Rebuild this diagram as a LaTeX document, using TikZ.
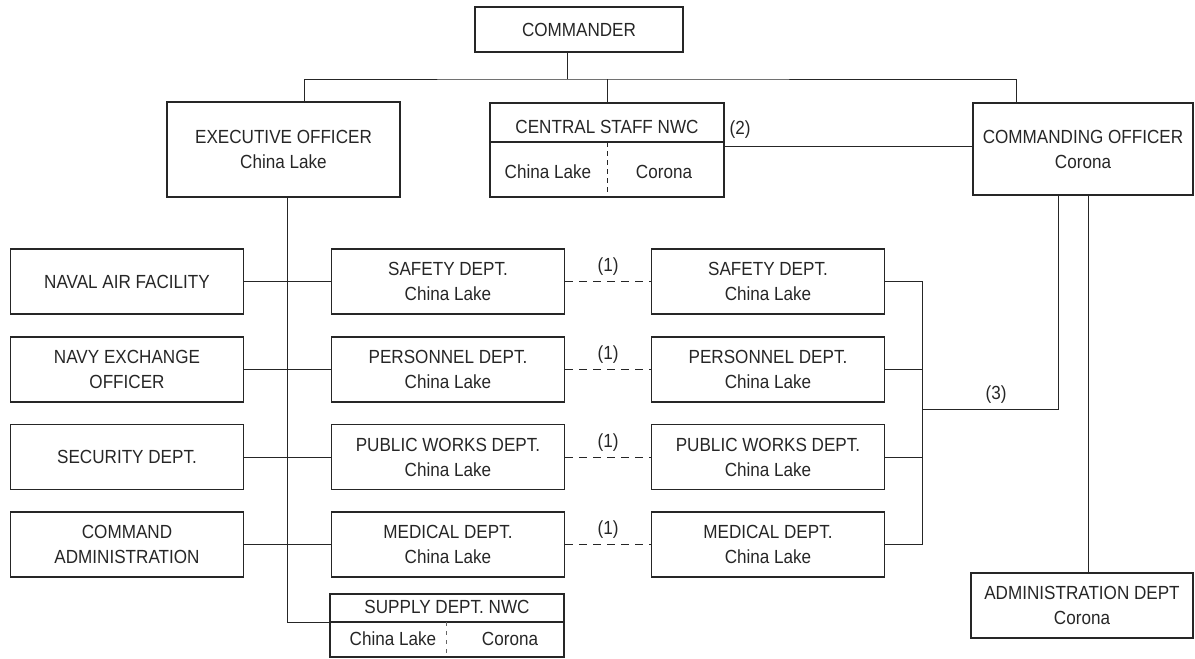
\documentclass[tikz,border=0pt]{standalone}
\usepackage{fontspec}
\setmainfont{Liberation Sans}[FakeStretch=0.9]
\usetikzlibrary{calc}

\begin{document}
\begin{tikzpicture}[x=1pt, y=-1pt,
    every node/.style={font=\fontsize{19}{25}\selectfont, text=black!85},
    unit/.style={draw=black!85, line width=1.3pt, align=center, inner sep=0pt},
    rowbox/.style={unit, minimum width=233pt, minimum height=65pt},
    link/.style={draw=black!85, line width=1pt},
    dotlink/.style={link, dash pattern=on 8pt off 6pt}]
\useasboundingbox (0,0) rectangle (1195,659);

% ---------------- Top level ----------------
\node[unit, minimum width=208pt, minimum height=45pt] (cmdr) at (579,29.5) {COMMANDER};
\node[unit, minimum width=233pt, minimum height=95pt] (exec) at (283.5,149.5) {EXECUTIVE OFFICER\\China Lake};
\node[unit, minimum width=234pt, minimum height=94pt] (cstaff) at (607,150) {};
\node[unit, minimum width=220pt, minimum height=92pt] (co) at (1083,149) {COMMANDING OFFICER\\Corona};

% central staff split
\draw[link, line width=1.3pt] (490,142) -- (724,142);
\draw[link, dash pattern=on 5pt off 4pt] (607,142) -- (607,197);
\node (cstitle) at (607,127) {CENTRAL STAFF NWC};
\node (cscl) at (548,172) {China Lake};
\node (csco) at (664,172) {Corona};
\node (lbltwo) at (740,130) {(2)};

% ---------------- Left column ----------------
\node[rowbox] (naf) at (127,281.5) {NAVAL AIR FACILITY};
\node[rowbox] (neo) at (127,369.5) {NAVY EXCHANGE\\OFFICER};
\node[rowbox] (sec) at (127,457) {SECURITY DEPT.};
\node[rowbox] (cadm) at (127,544.5) {COMMAND\\ADMINISTRATION};

% ---------------- Middle column ----------------
\node[rowbox] (msafe) at (448,281.5) {SAFETY DEPT.\\China Lake};
\node[rowbox] (mpers) at (448,369.5) {PERSONNEL DEPT.\\China Lake};
\node[rowbox] (mpw) at (448,457) {PUBLIC WORKS DEPT.\\China Lake};
\node[rowbox] (mmed) at (448,544.5) {MEDICAL DEPT.\\China Lake};

% ---------------- Right column ----------------
\node[rowbox] (rsafe) at (768,281.5) {SAFETY DEPT.\\China Lake};
\node[rowbox] (rpers) at (768,369.5) {PERSONNEL DEPT.\\China Lake};
\node[rowbox] (rpw) at (768,457) {PUBLIC WORKS DEPT.\\China Lake};
\node[rowbox] (rmed) at (768,544.5) {MEDICAL DEPT.\\China Lake};

% ---------------- Supply / Administration ----------------
\node[unit, minimum width=234pt, minimum height=63pt] (supply) at (447,625.5) {};
\draw[link, line width=1.3pt] (330,622) -- (564,622);
\draw[link, dash pattern=on 4pt off 5pt, draw=black!60] (446,622) -- (446,657);
\node (sptitle) at (447,607) {SUPPLY DEPT. NWC};
\node (spcl) at (393,639) {China Lake};
\node (spco) at (510,639) {Corona};

\node[unit, minimum width=222pt, minimum height=65pt] (admin) at (1082,605.5) {ADMINISTRATION DEPT\\Corona};

% ---------------- Connectors ----------------
\coordinate (cmdtap) at ([xshift=-12pt]cmdr.south);
\coordinate (cmdbus) at (567,79);
\coordinate (exectop) at ([xshift=20.5pt]exec.north);
\coordinate (cotop) at ([xshift=-67pt]co.north);
\draw[link] (cmdtap) -- (cmdbus);
\draw[link] (exectop) |- (cmdbus) -- (cotop |- cmdbus) -- (cotop);
\draw[link] (cstaff.north) -- (cstaff.north |- cmdbus);

\coordinate (csside) at ([yshift=4pt]cstaff.east);
\draw[link] (csside) -- (csside -| co.west);

\coordinate (exectap) at ([xshift=3.5pt]exec.south);
\coordinate (sdiv) at (330,622);
\draw[link] (exectap) |- (sdiv);

\draw[link] (naf.east) -- (msafe.west);
\draw[link] (neo.east) -- (mpers.west);
\draw[link] (sec.east) -- (mpw.west);
\draw[link] (cadm.east) -- (mmed.west);

\draw[dotlink] (msafe.east) -- (rsafe.west) node[midway, above=2pt] {(1)};
\draw[dotlink] (mpers.east) -- (rpers.west) node[midway, above=2pt] {(1)};
\draw[dotlink] (mpw.east) -- (rpw.west) node[midway, above=2pt] {(1)};
\draw[dotlink] (mmed.east) -- (rmed.west) node[midway, above=2pt] {(1)};

\coordinate (bus3) at (922,409);
\draw[link] (rsafe.east) -- (rsafe.east -| bus3) -- (rmed.east -| bus3) -- (rmed.east);
\draw[link] (rpers.east) -- (rpers.east -| bus3);
\draw[link] (rpw.east) -- (rpw.east -| bus3);
\coordinate (cotap) at ([xshift=-25pt]co.south);
\draw[link] (bus3) -| (cotap);
\node (lblthree) at (996,395) {(3)};

\coordinate (coadm) at ([xshift=5pt]co.south);
\draw[link] (coadm) -- (coadm |- admin.north);

\end{tikzpicture}
\end{document}
